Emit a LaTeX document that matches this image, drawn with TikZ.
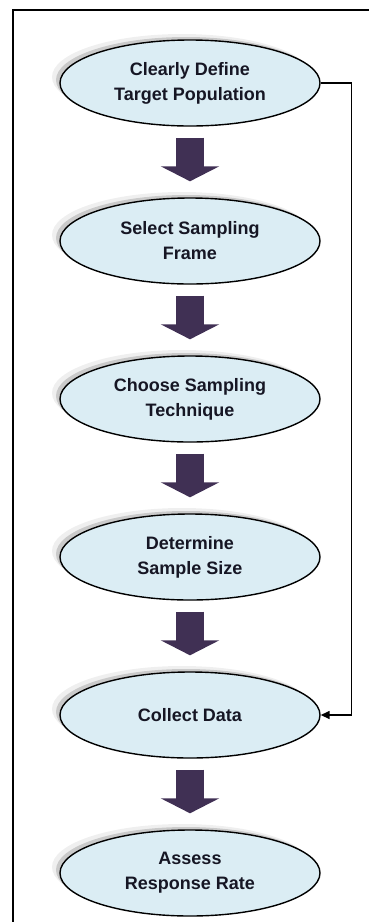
\documentclass[tikz,border=0pt]{standalone}
\usepackage{fontspec}
\setmainfont{Liberation Sans}
\usetikzlibrary{arrows.meta,shadows,shapes.geometric}
\definecolor{ovalfill}{RGB}{219,237,244}
\definecolor{arrowpurple}{RGB}{64,48,84}
\definecolor{textnavy}{RGB}{22,22,36}

\begin{document}
\begin{tikzpicture}[node distance=158pt, every node/.style={ellipse,draw,line width=1.4pt,
fill=ovalfill,align=center,text=textnavy,minimum width=260pt,minimum height=86pt,
font=\bfseries\fontsize{18pt}{25pt}\selectfont,
drop shadow={shadow xshift=-8pt,shadow yshift=6pt,fill=black!12,draw=none},
drop shadow={shadow xshift=-4pt,shadow yshift=3pt,fill=black!35,draw=none}},
flowarrow/.style={draw=arrowpurple,line width=28pt,-{Triangle[width=58pt,length=15pt]},
shorten <=11pt,shorten >=16pt},
loopback/.style={draw,line width=1.5pt,-{Triangle[width=8pt,length=9pt]}}]
\useasboundingbox (0,0) rectangle (368pt,-922pt);
\draw[line width=1.8pt] (13pt,-10pt) rectangle (400pt,-960pt);

\node (define)  at (190pt,-83pt) {Clearly Define\\Target Population};
\node (frame)   [below of=define]  {Select Sampling\\Frame};
\node (technique)[below of=frame]  {Choose Sampling\\Technique};
\node (size)    [below of=technique]{Determine\\Sample Size};
\node (collect) [below of=size]    {Collect Data};
\node (response)[below of=collect] {Assess\\Response Rate};

\draw[flowarrow] (define) -- (frame);
\draw[flowarrow] (frame) -- (technique);
\draw[flowarrow] (technique) -- (size);
\draw[flowarrow] (size) -- (collect);
\draw[flowarrow] (collect) -- (response);
\draw[loopback] (define.east) -- ++(31pt,0) |- (collect.east);
\end{tikzpicture}
\end{document}
